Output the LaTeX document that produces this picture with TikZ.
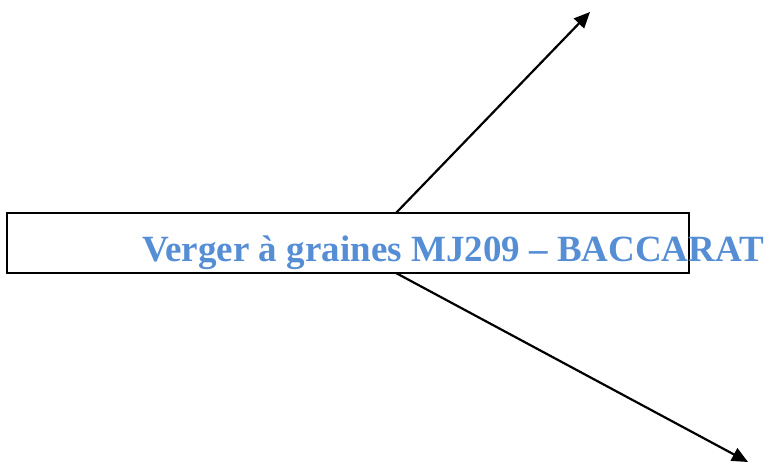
\documentclass[tikz,border=0pt]{standalone}
\usepackage{fontspec}
\setmainfont{Liberation Serif}
\usetikzlibrary{arrows.meta}
\definecolor{titleblue}{HTML}{558ED5}
\tikzset{
  boxstyle/.style={draw=black, line width=2pt, inner sep=0pt},
  arrowline/.style={draw=black, line width=2.2pt, -{Triangle[length=16pt,width=14pt]}},
  titletext/.style={text=titleblue, font=\bfseries\fontsize{37}{40}\selectfont, inner sep=0pt, anchor=base west}
}
\begin{document}
\begin{tikzpicture}[x=1pt,y=1pt]
\useasboundingbox (0,0) rectangle (769,463);
\draw[boxstyle] (7,190) rectangle (689,250);
\coordinate (top) at (396,250);
\coordinate (bot) at (396,190);
\coordinate (endA) at (590,451);
\coordinate (endB) at (748,1);
\draw[arrowline] (top) -- (endA);
\draw[arrowline] (bot) -- (endB);
\node[titletext] (title) at (142,201) {Verger à graines MJ209 – BACCARAT};
\end{tikzpicture}
\end{document}
